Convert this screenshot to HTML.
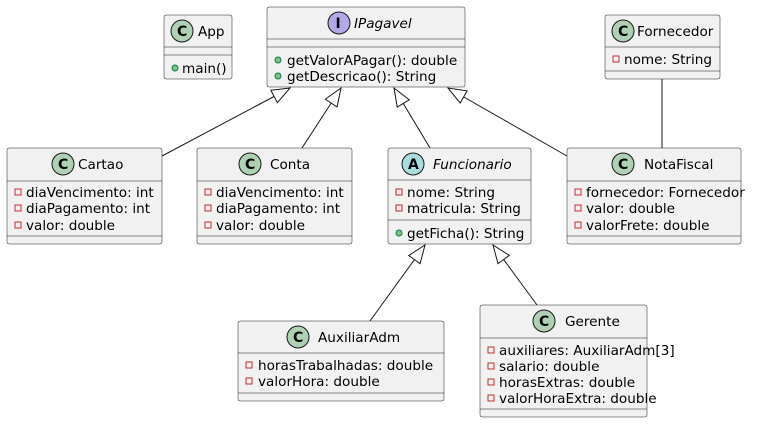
<!DOCTYPE html>
<html><head><meta charset="utf-8"><style>
html,body{margin:0;padding:0;background:#fff;}
svg{display:block;}
text{font-family:"DejaVu Sans","Liberation Sans",sans-serif;font-size:13.6px;fill:#000;}
.b{fill:#F1F1F1;stroke:#181818;stroke-width:0.5;}
.s{stroke:#181818;stroke-width:0.5;}
.l{stroke:#181818;stroke-width:1;fill:none;}
.pv{fill:none;stroke:#C82930;stroke-width:1;}
.pb{fill:#84BE84;stroke:#038048;stroke-width:1;}
.ic{font-weight:bold;font-size:14px;}
</style></head><body>
<svg width="764" height="424" viewBox="0 0 764 424" xmlns="http://www.w3.org/2000/svg">
<defs>
<marker id="t" markerUnits="userSpaceOnUse" markerWidth="22" markerHeight="16" refX="20" refY="8" orient="auto">
<path d="M2,1 L20,8 L2,15 Z" fill="#fff" stroke="#181818" stroke-width="1"/>
</marker>
</defs>

<line class="l" x1="162" y1="156" x2="290" y2="88" marker-end="url(#t)"/>
<line class="l" x1="302" y1="148" x2="341" y2="88" marker-end="url(#t)"/>
<line class="l" x1="430" y1="148" x2="394" y2="88" marker-end="url(#t)"/>
<line class="l" x1="567" y1="156" x2="448" y2="88" marker-end="url(#t)"/>
<line class="l" x1="662" y1="79" x2="662" y2="148"/>
<line class="l" x1="370" y1="321" x2="425" y2="245" marker-end="url(#t)"/>
<line class="l" x1="537" y1="305" x2="493" y2="245" marker-end="url(#t)"/>

<!-- App -->
<rect class="b" x="164" y="15" width="68" height="64" rx="2"/>
<line class="s" x1="164" y1="47" x2="232" y2="47"/><line class="s" x1="164" y1="55" x2="232" y2="55"/>
<circle cx="182" cy="31" r="11" fill="#ADD1B2" stroke="#181818" stroke-width="1"/><text class="ic" x="177" y="36">C</text>
<text x="198" y="36">App</text>
<circle class="pb" cx="175" cy="68" r="3"/><text x="182" y="73">main()</text>

<!-- IPagavel -->
<rect class="b" x="267" y="7" width="198" height="80" rx="2"/>
<line class="s" x1="267" y1="39" x2="465" y2="39"/><line class="s" x1="267" y1="47" x2="465" y2="47"/>
<circle cx="339" cy="23" r="11" fill="#B4A7E5" stroke="#181818" stroke-width="1"/><text class="ic" x="335.5" y="28">I</text>
<text x="354" y="28" font-style="italic">IPagavel</text>
<circle class="pb" cx="278" cy="60" r="3"/><text x="287" y="65">getValorAPagar(): double</text>
<circle class="pb" cx="278" cy="76" r="3"/><text x="287" y="81">getDescricao(): String</text>

<!-- Fornecedor -->
<rect class="b" x="605" y="15" width="115" height="64" rx="2"/>
<line class="s" x1="605" y1="47" x2="720" y2="47"/><line class="s" x1="605" y1="71" x2="720" y2="71"/>
<circle cx="623" cy="31" r="11" fill="#ADD1B2" stroke="#181818" stroke-width="1"/><text class="ic" x="618" y="36">C</text>
<text x="637" y="36">Fornecedor</text>
<rect class="pv" x="613" y="56" width="6" height="6"/><text x="624" y="64">nome: String</text>

<!-- Cartao -->
<rect class="b" x="7" y="148" width="155" height="96" rx="2"/>
<line class="s" x1="7" y1="181" x2="162" y2="181"/><line class="s" x1="7" y1="236" x2="162" y2="236"/>
<circle cx="63" cy="164" r="11" fill="#ADD1B2" stroke="#181818" stroke-width="1"/><text class="ic" x="58" y="169">C</text>
<text x="78" y="169">Cartao</text>
<rect class="pv" x="15" y="189" width="6" height="6"/><text x="26" y="197">diaVencimento: int</text>
<rect class="pv" x="15" y="205" width="6" height="6"/><text x="26" y="213">diaPagamento: int</text>
<rect class="pv" x="15" y="222" width="6" height="6"/><text x="26" y="230">valor: double</text>

<!-- Conta -->
<rect class="b" x="197" y="148" width="155" height="96" rx="2"/>
<line class="s" x1="197" y1="181" x2="352" y2="181"/><line class="s" x1="197" y1="236" x2="352" y2="236"/>
<circle cx="250" cy="164" r="11" fill="#ADD1B2" stroke="#181818" stroke-width="1"/><text class="ic" x="245" y="169">C</text>
<text x="270" y="169">Conta</text>
<rect class="pv" x="205" y="189" width="6" height="6"/><text x="216" y="197">diaVencimento: int</text>
<rect class="pv" x="205" y="205" width="6" height="6"/><text x="216" y="213">diaPagamento: int</text>
<rect class="pv" x="205" y="222" width="6" height="6"/><text x="216" y="230">valor: double</text>

<!-- Funcionario -->
<rect class="b" x="388" y="148" width="143" height="96" rx="2"/>
<line class="s" x1="388" y1="180" x2="531" y2="180"/><line class="s" x1="388" y1="220" x2="531" y2="220"/>
<circle cx="413" cy="164" r="11" fill="#A9DCDF" stroke="#181818" stroke-width="1"/><text class="ic" x="408" y="169">A</text>
<text x="433" y="169" font-style="italic">Funcionario</text>
<rect class="pv" x="396" y="189" width="6" height="6"/><text x="407" y="197">nome: String</text>
<rect class="pv" x="396" y="205" width="6" height="6"/><text x="407" y="213">matricula: String</text>
<circle class="pb" cx="399" cy="233" r="3"/><text x="407" y="238">getFicha(): String</text>

<!-- NotaFiscal -->
<rect class="b" x="567" y="148" width="174" height="96" rx="2"/>
<line class="s" x1="567" y1="181" x2="741" y2="181"/><line class="s" x1="567" y1="236" x2="741" y2="236"/>
<circle cx="623" cy="164" r="11" fill="#ADD1B2" stroke="#181818" stroke-width="1"/><text class="ic" x="618" y="169">C</text>
<text x="644" y="169">NotaFiscal</text>
<rect class="pv" x="575" y="189" width="6" height="6"/><text x="586" y="197">fornecedor: Fornecedor</text>
<rect class="pv" x="575" y="205" width="6" height="6"/><text x="586" y="213">valor: double</text>
<rect class="pv" x="575" y="222" width="6" height="6"/><text x="586" y="230">valorFrete: double</text>

<!-- AuxiliarAdm -->
<rect class="b" x="238" y="321" width="206" height="80" rx="2"/>
<line class="s" x1="238" y1="353" x2="444" y2="353"/><line class="s" x1="238" y1="393" x2="444" y2="393"/>
<circle cx="298" cy="337" r="11" fill="#ADD1B2" stroke="#181818" stroke-width="1"/><text class="ic" x="293" y="342">C</text>
<text x="318" y="342">AuxiliarAdm</text>
<rect class="pv" x="246" y="362" width="6" height="6"/><text x="258" y="370">horasTrabalhadas: double</text>
<rect class="pv" x="246" y="378" width="6" height="6"/><text x="258" y="386">valorHora: double</text>

<!-- Gerente -->
<rect class="b" x="480" y="305" width="167" height="112" rx="2"/>
<line class="s" x1="480" y1="338" x2="647" y2="338"/><line class="s" x1="480" y1="409" x2="647" y2="409"/>
<circle cx="544" cy="321" r="11" fill="#ADD1B2" stroke="#181818" stroke-width="1"/><text class="ic" x="539" y="326">C</text>
<text x="565" y="326">Gerente</text>
<rect class="pv" x="488" y="347" width="6" height="6"/><text x="499" y="355">auxiliares: AuxiliarAdm[3]</text>
<rect class="pv" x="488" y="363" width="6" height="6"/><text x="499" y="371">salario: double</text>
<rect class="pv" x="488" y="379" width="6" height="6"/><text x="499" y="387">horasExtras: double</text>
<rect class="pv" x="488" y="395" width="6" height="6"/><text x="499" y="403">valorHoraExtra: double</text>
</svg>
</body></html>
